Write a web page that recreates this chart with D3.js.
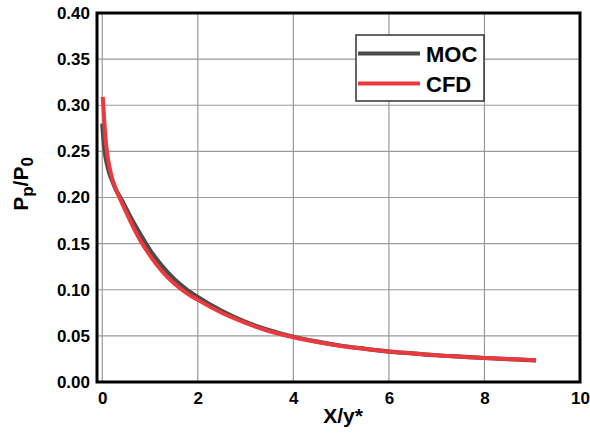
<!DOCTYPE html>
<html>
<head>
<meta charset="utf-8">
<script src="https://cdn.jsdelivr.net/npm/d3@7"></script>
<style>
  html, body { margin: 0; padding: 0; background: #fff; }
  svg { display: block; }
  text { font-family: "Liberation Sans", Arial, Helvetica, sans-serif; font-weight: bold; fill: #000; }
</style>
</head>
<body>
<svg id="chart" width="590" height="433"></svg>
<script>
// ---- data ----
const mocX = [0.00, 0.02, 0.05, 0.10, 0.15, 0.20, 0.30, 0.40, 0.50, 0.60, 0.80, 1.00, 1.25, 1.50, 1.75, 2.00, 2.50, 3.00, 3.50, 4.00, 4.50, 5.00, 5.50, 6.00, 6.50, 7.00, 7.50, 8.00, 8.50, 9.08];
const mocY = [0.280, 0.266, 0.250, 0.236, 0.226, 0.219, 0.207, 0.198, 0.188, 0.178, 0.160, 0.143, 0.126, 0.112, 0.101, 0.092, 0.077, 0.065, 0.056, 0.049, 0.0437, 0.0393, 0.036, 0.033, 0.031, 0.029, 0.0275, 0.026, 0.0248, 0.0235];
const cfdX = [0.01, 0.04, 0.07, 0.10, 0.14, 0.19, 0.27, 0.36, 0.50, 0.60, 0.80, 1.00, 1.25, 1.50, 1.75, 2.00, 2.50, 3.00, 3.50, 4.00, 4.50, 5.00, 5.50, 6.00, 6.50, 7.00, 7.50, 8.00, 8.50, 9.08];
const cfdY = [0.309, 0.285, 0.263, 0.249, 0.236, 0.224, 0.211, 0.200, 0.184, 0.173, 0.153, 0.137, 0.120, 0.107, 0.097, 0.089, 0.075, 0.064, 0.055, 0.0485, 0.0433, 0.039, 0.0358, 0.033, 0.031, 0.029, 0.0275, 0.026, 0.0248, 0.0235];
const xTicks = [0, 2, 4, 6, 8, 10];
const yTicks = [0.00, 0.05, 0.10, 0.15, 0.20, 0.25, 0.30, 0.35, 0.40];
const seriesNames = ["MOC", "CFD"];
const seriesColors = ["#4b4b4b", "#ea3a3d"];

// ---- layout ----
const L = 97, R = 580, T = 13, B = 382;
const svg = d3.select("#chart");
const x = d3.scaleLinear().domain([-0.11, 10]).range([L, R]);
const y = d3.scaleLinear().domain([0, 0.4]).range([B, T]);

// grid
svg.append("g").selectAll("line").data(xTicks.filter(d => d < 10)).join("line")
  .attr("x1", d => x(d)).attr("x2", d => x(d)).attr("y1", T).attr("y2", B)
  .attr("stroke", "#9a9a9a").attr("stroke-width", 1.2);
svg.append("g").selectAll("line").data(yTicks.filter(d => d > 0 && d < 0.4)).join("line")
  .attr("x1", L).attr("x2", R).attr("y1", d => y(d)).attr("y2", d => y(d))
  .attr("stroke", "#9a9a9a").attr("stroke-width", 1.2);

// axes (labels only)
const xAxis = d3.axisBottom(x).tickValues(xTicks).tickSize(0).tickPadding(10).tickFormat(d3.format("d"));
const gx = svg.append("g").attr("transform", `translate(0,${B})`).call(xAxis);
gx.select(".domain").remove();
gx.selectAll("text").style("font-size", "17px").style("font-family", "'Liberation Sans', Arial, sans-serif").style("font-weight", "bold").attr("fill", "#000");

const yAxis = d3.axisLeft(y).tickValues(yTicks).tickSize(0).tickPadding(7).tickFormat(d3.format(".2f"));
const gy = svg.append("g").attr("transform", `translate(${L},0)`).call(yAxis);
gy.select(".domain").remove();
gy.selectAll("text").style("font-size", "17px").style("font-family", "'Liberation Sans', Arial, sans-serif").style("font-weight", "bold").attr("fill", "#000");

// lines
const line = d3.line().x(d => x(d[0])).y(d => y(d[1])).curve(d3.curveMonotoneX);
const mocData = mocX.map((v, i) => [v, mocY[i]]);
const cfdData = cfdX.map((v, i) => [v, cfdY[i]]);
svg.append("path").datum(mocData).attr("d", line).attr("fill", "none")
  .attr("stroke", seriesColors[0]).attr("stroke-width", 4.2);
svg.append("path").datum(cfdData).attr("d", line).attr("fill", "none")
  .attr("stroke", seriesColors[1]).attr("stroke-width", 4);

// frame
svg.append("rect").attr("x", L).attr("y", T).attr("width", R - L).attr("height", B - T)
  .attr("fill", "none").attr("stroke", "#000").attr("stroke-width", 3);

// legend
const lg = svg.append("g");
lg.append("rect").attr("x", 356).attr("y", 35).attr("width", 128).attr("height", 66)
  .attr("fill", "#fff").attr("stroke", "#333").attr("stroke-width", 1.5);
seriesNames.forEach((name, i) => {
  const ly = 53.5 + i * 30;
  lg.append("line").attr("x1", 358).attr("x2", 420).attr("y1", ly).attr("y2", ly)
    .attr("stroke", seriesColors[i]).attr("stroke-width", 4);
  lg.append("text").attr("x", 426).attr("y", ly + 8).style("font-size", "22px").text(name);
});

// axis titles
svg.append("text").attr("x", 343).attr("y", 423).attr("text-anchor", "middle")
  .style("font-size", "21px").text("X/y*");

const yt = svg.append("text").attr("transform", "translate(28,184) rotate(-90)")
  .attr("text-anchor", "middle").style("font-size", "21px");
yt.append("tspan").text("P");
yt.append("tspan").attr("dy", 5).style("font-size", "17px").text("p");
yt.append("tspan").attr("dy", -5).text("/P");
yt.append("tspan").attr("dy", 5).style("font-size", "17px").text("0");
</script>
</body>
</html>
